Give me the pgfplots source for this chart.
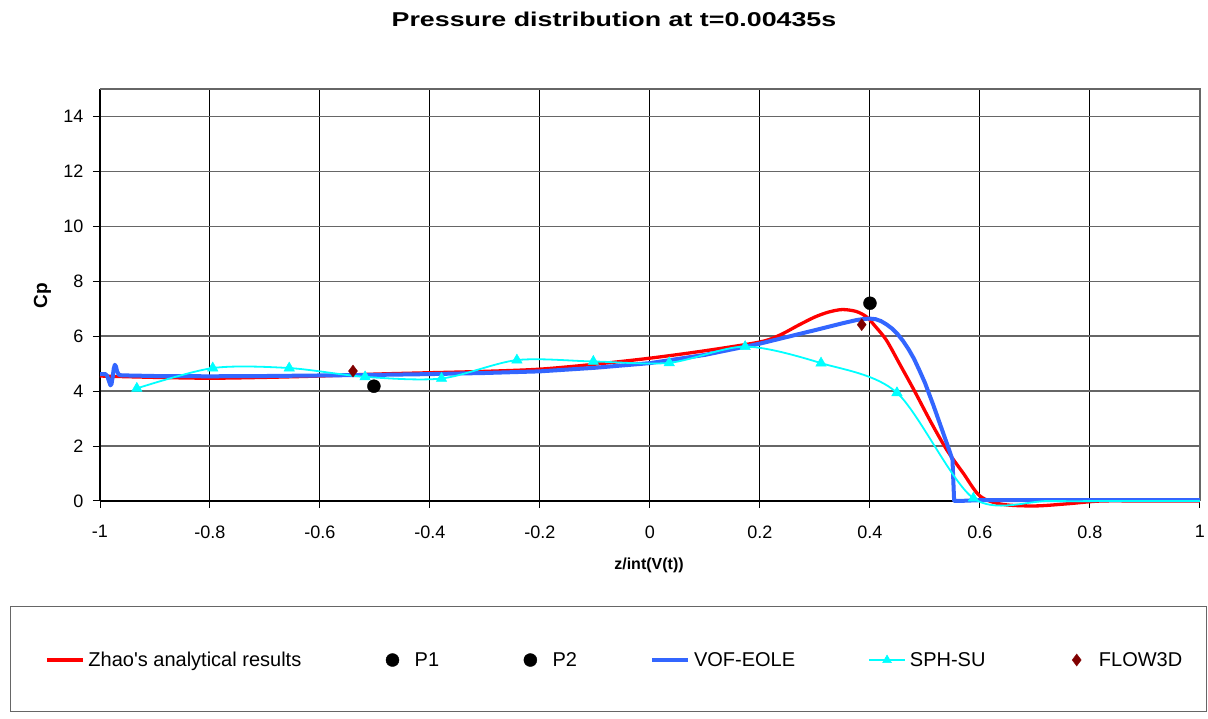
\documentclass[border=0pt]{standalone}
\usepackage{fontspec}
\setmainfont{Liberation Sans}[Ligatures=TeXOff]
\usepackage{graphicx}
\usepackage{pgfplots}
\pgfplotsset{compat=1.18}
\definecolor{zhaored}{RGB}{255,0,0}
\definecolor{vofblue}{RGB}{51,102,255}
\definecolor{sphcyan}{RGB}{0,255,255}
\definecolor{flowred}{RGB}{128,0,0}
\pgfplotsset{
  lineleg/.style={legend image code/.code={\draw[mark repeat=2,mark phase=2,##1] plot coordinates {(0pt,0pt) (18pt,0pt) (36pt,0pt)};}},
  markleg/.style={legend image code/.code={\path (0pt,0pt) (36pt,0pt); \draw[##1] plot coordinates {(18pt,0pt)};}},
}
\pgfplotstableread{
x y
-1.000 4.55
-0.900 4.50
-0.800 4.47
-0.700 4.50
-0.600 4.55
-0.500 4.62
-0.400 4.67
-0.300 4.72
-0.200 4.80
-0.100 4.98
0.000 5.20
0.100 5.47
0.200 5.79
0.236 6.04
0.270 6.40
0.300 6.70
0.325 6.88
0.350 6.97
0.375 6.90
0.394 6.70
0.410 6.35
0.430 5.85
0.455 4.95
0.480 4.04
0.510 2.90
0.540 1.85
0.570 1.00
0.600 0.18
0.640 -0.12
0.700 -0.18
0.760 -0.10
0.820 0.00
0.900 0.00
1.000 0.00
}\zhao
\pgfplotstableread{
x y
-1.000 4.62
-0.990 4.62
-0.987 4.56
-0.984 4.38
-0.981 4.21
-0.979 4.26
-0.977 4.50
-0.975 4.82
-0.973 4.96
-0.971 4.90
-0.969 4.73
-0.966 4.60
-0.960 4.57
-0.950 4.57
-0.900 4.55
-0.800 4.54
-0.700 4.55
-0.600 4.57
-0.500 4.59
-0.400 4.62
-0.300 4.66
-0.200 4.72
-0.100 4.85
0.000 5.02
0.100 5.32
0.200 5.73
0.300 6.22
0.350 6.47
0.376 6.59
0.390 6.63
0.400 6.64
0.410 6.62
0.420 6.55
0.430 6.43
0.440 6.28
0.450 6.08
0.460 5.83
0.470 5.53
0.480 5.18
0.490 4.75
0.500 4.30
0.515 3.50
0.530 2.65
0.545 1.80
0.550 1.50
0.553 0.00
0.560 0.00
0.600 0.03
1.000 0.03
}\vof
\pgfplotstableread{
x y
-0.933 4.10
-0.795 4.84
-0.656 4.84
-0.518 4.52
-0.379 4.46
-0.242 5.13
-0.103 5.08
0.035 5.03
0.173 5.62
0.311 5.02
0.449 3.94
0.588 0.10
0.726 0.00
0.865 0.00
1.000 0.00
}\sph
\begin{document}
\begin{tikzpicture}[x=1pt,y=1pt]
\path[use as bounding box] (0,0) rectangle (1208,719);
\node[anchor=base, font=\bfseries\fontsize{20}{24}\selectfont, inner sep=0pt] at (614,692) {\scalebox{1.34}[1]{Pressure distribution at t=0.00435s}};
\node[anchor=base, rotate=90, font=\bfseries\fontsize{19}{22}\selectfont, inner sep=0pt] at (47,423) {Cp};
\node[anchor=base, font=\bfseries\fontsize{16}{19}\selectfont, inner sep=0pt] at (649,149) {z/int(V(t))};
\draw[black!60, line width=1pt] (10,7) rectangle (1206,112);
\begin{axis}[
  at={(100pt,218pt)}, anchor=south west,
  scale only axis, width=1100pt, height=412pt,
  xmin=-1, xmax=1, ymin=0, ymax=15,
  axis lines=left, axis line style={-, black, line width=1.3pt},
  xtick={-1,-0.8,-0.6,-0.4,-0.2,0,0.2,0.4,0.6,0.8,1},
  xticklabels={-1,-0.8,-0.6,-0.4,-0.2,0,0.2,0.4,0.6,0.8,1},
  ytick={0,2,4,6,8,10,12,14},
  yticklabels={0,2,4,6,8,10,12,14},
  tick align=outside, major tick length=7pt,
  tick style={black, line width=1pt},
  xmajorgrids, ymajorgrids,
  x grid style={black, line width=1pt},
  y grid style={black!60, line width=1.5pt},
  ticklabel style={font=\fontsize{18}{21}\selectfont},
  xticklabel style={yshift=-14pt},
  yticklabel style={xshift=-6pt},
  clip=false,
  legend columns=6,
  legend style={at={(-0.05,-0.386)}, anchor=west, draw=none, fill=none,
    inner sep=0pt, column sep=0pt,
    nodes={inner sep=0pt, font=\fontsize{20}{24}\selectfont},
    /tikz/every odd column/.append style={column sep=4pt},
    /tikz/every even column/.append style={column sep=73pt}},
  legend cell align=left,
]
\draw[black!60, line width=1.2pt] (rel axis cs:0,1) -- (rel axis cs:1,1) -- (rel axis cs:1,0);
\addplot[zhaored, line width=3.3pt, smooth, lineleg] table {\zhao};
\addlegendentry{Zhao's analytical results}
\addplot[black, only marks, mark=*, mark size=6.5pt, markleg] coordinates {(-0.502,4.18)};
\addlegendentry{P1}
\addplot[black, only marks, mark=*, mark size=6.5pt, markleg] coordinates {(0.400,7.20)};
\addlegendentry{P2}
\addplot[vofblue, line width=4pt, line join=round, lineleg] table {\vof};
\addlegendentry{VOF-EOLE}
\addplot[sphcyan, line width=1.8pt, smooth, mark=triangle*, mark size=6pt, mark options={fill=sphcyan, draw=sphcyan, line width=0.5pt},
  mark indices={1,2,3,4,5,6,7,8,9,10,11,12}, forget plot] table {\sph};
\addlegendimage{sphcyan, line width=1.8pt, mark=triangle*, mark size=5pt, mark options={fill=sphcyan, draw=sphcyan, line width=0.5pt}, lineleg}
\addlegendentry{SPH-SU}
\addplot[flowred, only marks, mark=diamond*, mark size=6pt, mark options={fill=flowred}, markleg] coordinates {(-0.540,4.73) (0.385,6.42)};
\addlegendentry{FLOW3D}
\end{axis}
\end{tikzpicture}
\end{document}
